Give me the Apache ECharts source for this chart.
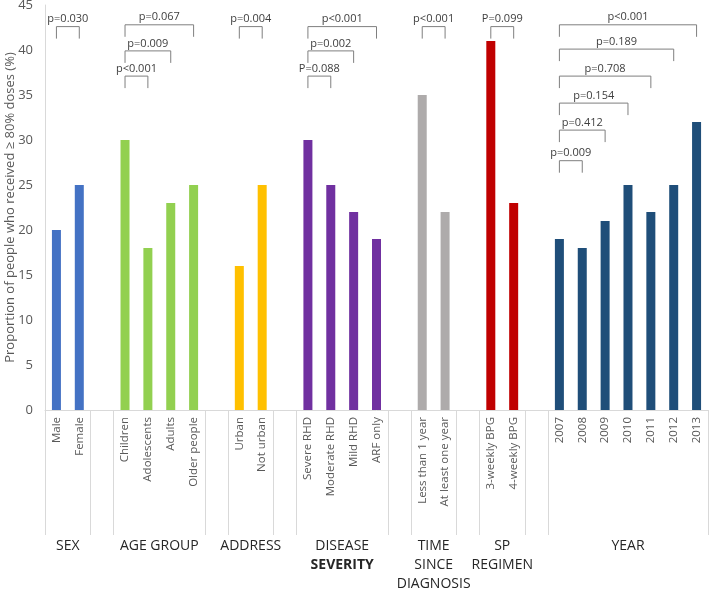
<!DOCTYPE html>
<html>
<head>
<meta charset="utf-8">
<script src="https://cdn.jsdelivr.net/npm/echarts@6/dist/echarts.min.js"></script>
<style>
  html, body { margin: 0; padding: 0; background: #fff; }
  #root { width: 709px; height: 589px; }
</style>
</head>
<body>
<div id="root"></div>
<script>
// groups shown along the x axis, one empty slot between each pair
var groupNames = ['SEX', 'AGE GROUP', 'ADDRESS', 'DISEASE\n{b|SEVERITY}', 'TIME\nSINCE\nDIAGNOSIS', 'SP\nREGIMEN', 'YEAR'];
var groupCategories = [
  ['Male', 'Female'],
  ['Children', 'Adolescents', 'Adults', 'Older people'],
  ['Urban', 'Not urban'],
  ['Severe RHD', 'Moderate RHD', 'Mild RHD', 'ARF only'],
  ['Less than 1 year', 'At least one year'],
  ['3-weekly BPG', '4-weekly BPG'],
  ['2007', '2008', '2009', '2010', '2011', '2012', '2013']
];
var groupValues = [
  [20, 25],
  [30, 18, 23, 25],
  [16, 25],
  [30, 25, 22, 19],
  [35, 22],
  [41, 23],
  [19, 18, 21, 25, 22, 25, 32]
];
var groupColors = ['#4472C4', '#92D050', '#FFC000', '#7030A0', '#AEABAB', '#C00000', '#1F4E79'];

// significance brackets: from / to category, height of the bracket top, text
var bracketFrom = ['Male', 'Children', 'Children', 'Children', 'Urban', 'Severe RHD', 'Severe RHD', 'Severe RHD',
  'Less than 1 year', '3-weekly BPG', '2007', '2007', '2007', '2007', '2007', '2007'];
var bracketTo = ['Female', 'Adolescents', 'Adults', 'Older people', 'Not urban', 'Moderate RHD', 'Mild RHD', 'ARF only',
  'At least one year', '4-weekly BPG', '2008', '2009', '2010', '2011', '2012', '2013'];
var bracketTop = [42.6, 37.1, 39.9, 42.8, 42.6, 37.1, 39.9, 42.6, 42.6, 42.6, 27.7, 31.1, 34.1, 37.1, 40.1, 42.8];
var bracketText = ['p=0.030', 'p<0.001', 'p=0.009', 'p=0.067', 'p=0.004', 'P=0.088', 'p=0.002', 'p<0.001',
  'p<0.001', 'P=0.099', 'p=0.009', 'p=0.412', 'p=0.154', 'p=0.708', 'p=0.189', 'p<0.001'];

var yTicks = { min: 0, max: 45, interval: 5 };

// flatten groups into one category list with blank slots
var categories = [];
var barData = [];
var isGap = [];
var groupSpans = [];
groupCategories.forEach(function (cats, g) {
  if (g > 0) {
    categories.push('');
    barData.push(null);
    isGap.push(true);
  }
  var start = categories.length;
  cats.forEach(function (name, i) {
    categories.push(name);
    isGap.push(false);
    barData.push({ value: groupValues[g][i], itemStyle: { color: groupColors[g] } });
  });
  groupSpans.push([start, categories.length - 1, 0]);
});

var bracketData = bracketFrom.map(function (name, i) {
  return [categories.indexOf(name), categories.indexOf(bracketTo[i]), bracketTop[i]];
});

var fontName = '"Open Sans", sans-serif';

var option = {
  animation: false,
  textStyle: { fontFamily: fontName },
  grid: { left: 45, right: 1, top: 5, bottom: 179, containLabel: false, outerBoundsMode: 'none' },
  xAxis: {
    type: 'category',
    data: categories,
    boundaryGap: true,
    axisLine: { lineStyle: { color: '#d9d9d9' } },
    axisTick: {
      show: true,
      length: 125,
      lineStyle: { color: '#d9d9d9' },
      interval: function (index) {
        return index === 0 || isGap[index] || isGap[index - 1];
      }
    },
    axisLabel: {
      interval: 0,
      rotate: 90,
      margin: 7,
      fontSize: 11.5,
      color: '#595959',
      fontFamily: fontName
    }
  },
  yAxis: {
    type: 'value',
    min: yTicks.min,
    max: yTicks.max,
    interval: yTicks.interval,
    name: 'Proportion of people who received \u2265 80% doses (%)',
    nameLocation: 'middle',
    nameGap: 28,
    nameMoveOverlap: false,
    nameTextStyle: { fontSize: 13, color: '#595959', fontFamily: fontName },
    axisLine: { show: true, lineStyle: { color: '#d9d9d9' } },
    axisTick: { show: false },
    splitLine: { show: false },
    axisLabel: { fontSize: 13, color: '#595959', margin: 12, fontFamily: fontName }
  },
  series: [
    {
      type: 'bar',
      data: barData,
      barWidth: 9
    },
    {
      // p-value brackets
      type: 'custom',
      data: bracketData,
      clip: false,
      renderItem: function (params, api) {
        var a = api.coord([api.value(0), api.value(2)]);
        var b = api.coord([api.value(1), api.value(2)]);
        var leg = 12;
        return {
          type: 'group',
          children: [
            {
              type: 'polyline',
              shape: { points: [[a[0], a[1] + leg], [a[0], a[1]], [b[0], b[1]], [b[0], b[1] + leg]] },
              style: { stroke: '#7f7f7f', lineWidth: 1, fill: null }
            },
            {
              type: 'text',
              x: (a[0] + b[0]) / 2,
              y: a[1] - 2,
              style: {
                text: bracketText[params.dataIndex],
                fill: '#404040',
                fontSize: 11,
                fontFamily: fontName,
                align: 'center',
                verticalAlign: 'bottom'
              }
            }
          ]
        };
      }
    },
    {
      // group names under the axis
      type: 'custom',
      data: groupSpans,
      clip: false,
      renderItem: function (params, api) {
        var a = api.coord([api.value(0), 0]);
        var b = api.coord([api.value(1), 0]);
        return {
          type: 'text',
          x: (a[0] + b[0]) / 2,
          y: a[1] + 127,
          style: {
            text: groupNames[params.dataIndex],
            fill: '#262626',
            fontSize: 14,
            lineHeight: 19,
            fontFamily: fontName,
            align: 'center',
            verticalAlign: 'top',
            rich: {
              b: { fontSize: 14, fontWeight: 'bold', fill: '#262626', lineHeight: 19, fontFamily: fontName }
            }
          }
        };
      }
    }
  ]
};

var myChart = echarts.init(document.getElementById('root'));
myChart.setOption(option);
</script>
</body>
</html>
